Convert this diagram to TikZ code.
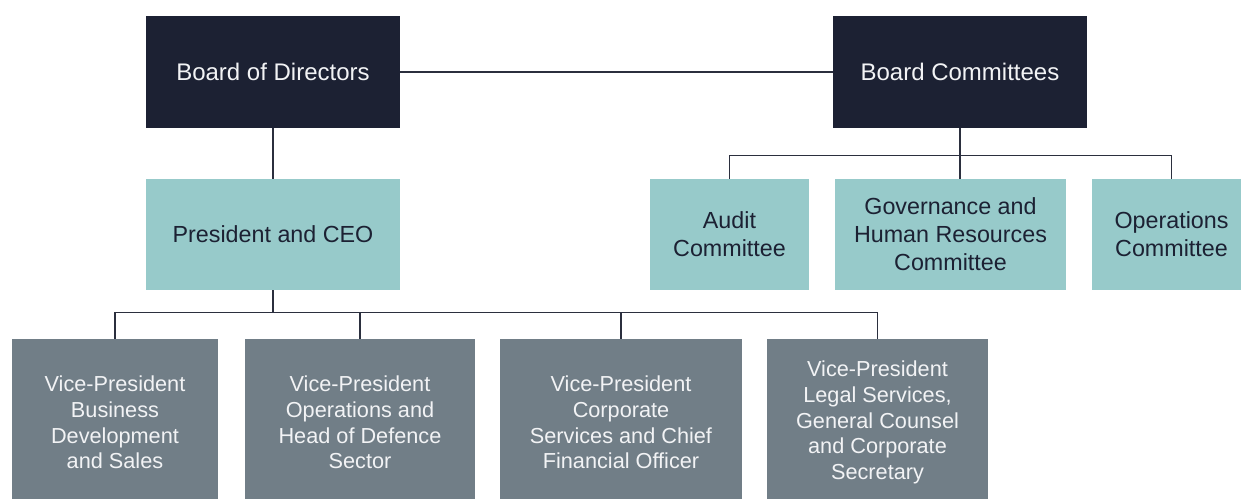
\documentclass[tikz,border=0pt]{standalone}
\usepackage{fontspec}
\setmainfont{Liberation Sans}
\usetikzlibrary{calc}
\definecolor{navy}{HTML}{1C2133}
\definecolor{teal}{HTML}{97CACA}
\definecolor{slate}{HTML}{717E87}
\definecolor{wire}{HTML}{2B2F3E}
\definecolor{lighttext}{HTML}{F2F3F5}
\begin{document}
\begin{tikzpicture}[x=1pt,y=-1pt,
  box/.style={rectangle,inner sep=0pt,align=center,anchor=center},
  topbox/.style={box,fill=navy,text=lighttext,font=\fontsize{24}{28}\selectfont,minimum width=254pt,minimum height=112pt},
  midbox/.style={box,fill=teal,text=navy,font=\fontsize{23.3}{28}\selectfont,minimum height=111pt},
  vpbox/.style={box,fill=slate,text=lighttext,font=\fontsize{21.7}{25.8}\selectfont,minimum height=167pt},
  wirel/.style={draw=wire,line width=1.4pt}]
\useasboundingbox (0,0) rectangle (1241,498);
\clip (0,0) rectangle (1241,498);
% top row
\node[topbox] (bod) at (273,72) {Board of Directors};
\node[topbox] (bc) at (960,72) {Board Committees};
% middle row
\node[midbox,minimum width=254pt] (ceo) at (273,234.5) {President and CEO};
\node[midbox,minimum width=159pt] (audit) at (729.5,234.5) {Audit\\Committee};
\node[midbox,minimum width=231pt] (gov) at (950.5,234.5) {Governance and\\Human Resources\\Committee};
\node[midbox,minimum width=159pt] (ops) at (1171.5,234.5) {Operations\\Committee};
% bottom row
\node[vpbox,minimum width=206pt] (vp1) at (115,422.5) {Vice-President\\Business\\Development\\and Sales};
\node[vpbox,minimum width=230pt] (vp2) at (360,422.5) {Vice-President\\Operations and\\Head of Defence\\Sector};
\node[vpbox,minimum width=242pt] (vp3) at (621,422.5) {Vice-President\\Corporate\\Services and Chief\\Financial Officer};
\node[vpbox,minimum width=221pt] (vp4) at (877.5,422.5) {Vice-President\\Legal Services,\\General Counsel\\and Corporate\\Secretary};
% connectors
\draw[wirel] (bod) -- (bc);
\draw[wirel] (bod) -- (ceo);
\draw[wirel] (bc.south) -- (bc.south |- gov.north);
\coordinate (cb) at ($(bc.south)+(0,27)$);
\draw[wirel] (audit.north) |- (ops.north |- cb) -- (ops.north);
\coordinate (vb) at ($(ceo.south)+(0,22)$);
\draw[wirel] (ceo.south) -- (vb);
\draw[wirel] (vp1.north) |- (vp4.north |- vb) -- (vp4.north);
\draw[wirel] (vp2.north) -- (vp2.north |- vb);
\draw[wirel] (vp3.north) -- (vp3.north |- vb);
\end{tikzpicture}
\end{document}
